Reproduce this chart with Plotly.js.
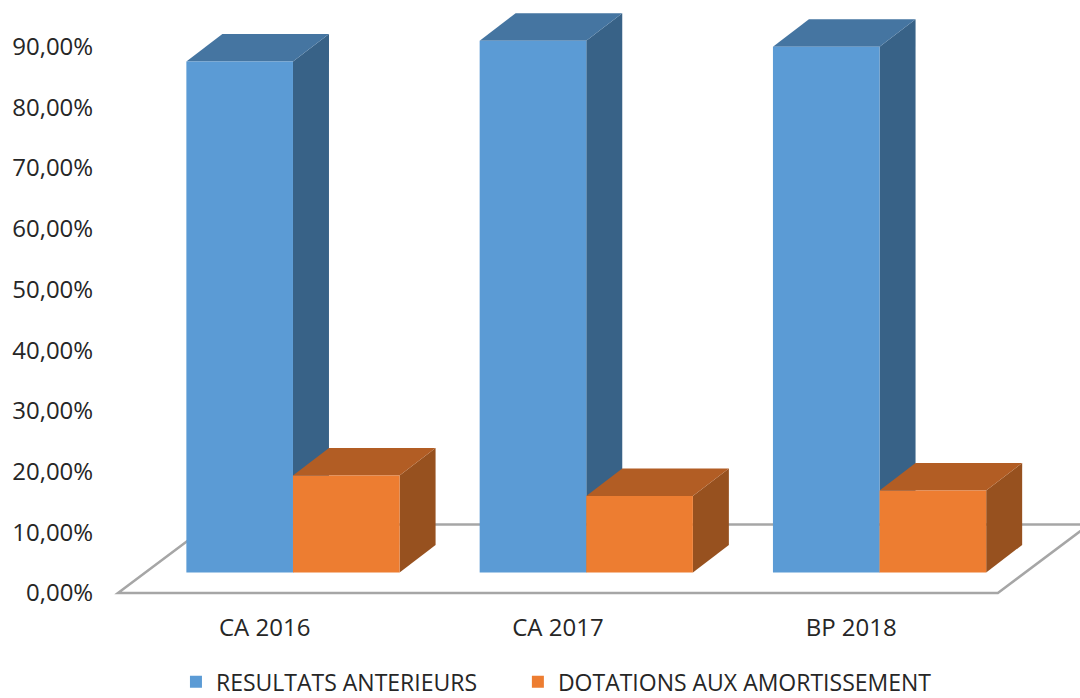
<!DOCTYPE html>
<html>
<head>
<meta charset="utf-8">
<script src="https://cdn.plot.ly/plotly-3.0.1.min.js"></script>
<style>html,body{margin:0;padding:0;background:#fff}</style>
</head>
<body>
<div id="chart" style="width:1080px;height:698px"></div>
<script>
const categories = ['CA 2016', 'CA 2017', 'BP 2018'];
const resultats = [84.2, 87.6, 86.6];
const dotations = [15.95, 12.6, 13.5];
const yTickVals = [0, 10, 20, 30, 40, 50, 60, 70, 80, 90];
const yTickText = ['0,00%', '10,00%', '20,00%', '30,00%', '40,00%', '50,00%', '60,00%', '70,00%', '80,00%', '90,00%'];
const seriesNames = ['RESULTATS ANTERIEURS', 'DOTATIONS AUX AMORTISSEMENT'];

// pseudo-3D projection, in axis units
const floorBase = 3.38, depthX = 0.1227, depthY = 4.53, barShift = 0.0966, barW = 0.3635;
const idx = categories.map((_, i) => i);
const font = 'Open Sans, Noto Sans, sans-serif';

function poly(pts, fill) {
  return {type: 'path', xref: 'x', yref: 'y', layer: 'below', fillcolor: fill, line: {width: 0},
    path: 'M' + pts.map(p => p[0] + ',' + p[1]).join('L') + 'Z'};
}
function box(x0, x1, v, sideCol, topCol) {
  const t = floorBase + v;
  return [
    poly([[x1, floorBase], [x1 + depthX, floorBase + depthY], [x1 + depthX, t + depthY], [x1, t]], sideCol),
    poly([[x0, t], [x0 + depthX, t + depthY], [x1 + depthX, t + depthY], [x1, t]], topCol)
  ];
}
const floorBackY = 11.28, floorDX = 0.3115;
const shapes = [{
  type: 'path', xref: 'x', yref: 'y', layer: 'below', line: {color: '#A6A6A6', width: 2.5},
  path: `M${-0.5 + floorDX},${floorBackY}L-0.5,0L2.5,0L${2.5 + floorDX},${floorBackY}`
}, {
  type: 'line', xref: 'x', yref: 'y', layer: 'below', line: {color: '#A6A6A6', width: 2.5},
  x0: -0.5 + floorDX, x1: 2.5 + floorDX, y0: floorBackY, y1: floorBackY
}];
idx.forEach(i => {
  const c = i + barShift;
  shapes.push(...box(c - barW, c, resultats[i], '#386287', '#4575A1'));
});
idx.forEach(i => {
  const c = i + barShift;
  shapes.push(...box(c, c + barW, dotations[i], '#97511F', '#B25D24'));
});

const traces = [
  {type: 'bar', name: seriesNames[0], x: idx.map(i => i + barShift - barW / 2), y: resultats, width: barW,
   base: idx.map(() => floorBase), marker: {color: '#5B9BD5', line: {width: 0}}, legend: 'legend', hoverinfo: 'skip'},
  {type: 'bar', name: seriesNames[1], x: idx.map(i => i + barShift + barW / 2), y: dotations, width: barW,
   base: idx.map(() => floorBase), marker: {color: '#ED7D31', line: {width: 0}}, legend: 'legend2', hoverinfo: 'skip'}
];
const legendBase = {orientation: 'h', itemgap: 0, xanchor: 'left', yanchor: 'middle', yref: 'paper', xref: 'paper',
  bgcolor: 'rgba(0,0,0,0)', font: {family: font, size: 23, color: '#262626'}};
const layout = {
  width: 1080, height: 698, paper_bgcolor: '#fff', plot_bgcolor: '#fff',
  margin: {l: 110, r: 0, t: 5, b: 99, autoexpand: false},
  barmode: 'overlay', showlegend: true,
  font: {family: font, size: 24, color: '#262626'},
  xaxis: {range: [-0.5273, 2.78], tickvals: idx, ticktext: categories, showgrid: false, zeroline: false, showline: false,
    ticks: 'outside', ticklen: 7, tickcolor: 'rgba(0,0,0,0)', tickfont: {family: font, size: 24, color: '#262626'}},
  yaxis: {range: [-1, 96.87], tickvals: yTickVals, ticktext: yTickText, showgrid: false, zeroline: false, showline: false,
    ticks: 'outside', ticklen: 11, tickcolor: 'rgba(0,0,0,0)', tickfont: {family: font, size: 24, color: '#262626'}},
  legend: Object.assign({}, legendBase, {x: 0.068, y: -0.1395}),
  legend2: Object.assign({}, legendBase, {x: 0.4205, y: -0.1395}),
  shapes: shapes
};
Plotly.newPlot('chart', traces, layout, {displayModeBar: false, responsive: false});
</script>
</body>
</html>
